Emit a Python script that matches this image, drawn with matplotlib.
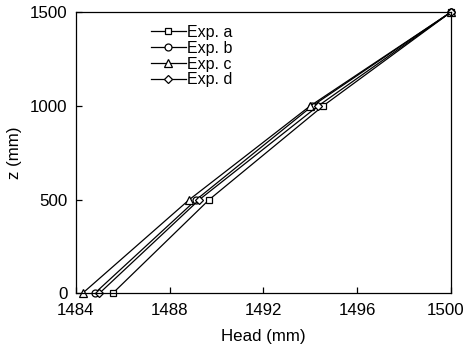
import matplotlib

matplotlib.use("Agg")
import matplotlib.pyplot as plt
from matplotlib.transforms import ScaledTranslation

plt.rcParams["font.family"] = ["Liberation Sans", "DejaVu Sans"]

Z_MM = [0, 500, 1000, 1500]
HEAD_A = [1485.57, 1489.69, 1494.55, 1500.0]
HEAD_B = [1484.80, 1489.14, 1494.09, 1500.0]
HEAD_C = [1484.28, 1488.84, 1494.00, 1500.0]
HEAD_D = [1485.00, 1489.27, 1494.34, 1500.0]

SERIES = [
    ("Exp. a", HEAD_A, "s", 4.5),
    ("Exp. b", HEAD_B, "o", 5.0),
    ("Exp. c", HEAD_C, "^", 5.5),
    ("Exp. d", HEAD_D, "D", 4.5),
]

X_TICKS = [1484, 1488, 1492, 1496, 1500]
Y_TICKS = [0, 500, 1000, 1500]


def main() -> None:
    fig = plt.figure(figsize=(4.67, 3.54), dpi=100)
    ax = fig.add_axes([0.1627, 0.1715, 0.8023, 0.7938])

    for label, head, marker, ms in SERIES:
        ax.plot(
            head,
            Z_MM,
            color="black",
            linewidth=0.9,
            marker=marker,
            markersize=ms,
            markerfacecolor="white",
            markeredgecolor="black",
            markeredgewidth=0.9,
            label=label,
            clip_on=False,
        )

    ax.set_xlim(1484, 1500)
    ax.set_ylim(0, 1500)
    ax.set_xticks(X_TICKS)
    ax.set_yticks(Y_TICKS)
    ax.tick_params(direction="in", length=4, width=0.9, labelsize=12.2)
    ax.tick_params(axis="x", pad=7)
    ax.tick_params(axis="y", pad=6)
    for spine in ax.spines.values():
        spine.set_linewidth(0.9)

    # keep the last x label inside the figure, as in the original
    last = ax.get_xticklabels()[-1]
    last.set_transform(last.get_transform() + ScaledTranslation(-0.05, 0, fig.dpi_scale_trans))

    ax.set_xlabel("Head (mm)", fontsize=12.2, labelpad=8)
    ax.set_ylabel("z (mm)", fontsize=12.2, labelpad=6)

    ax.legend(
        loc="upper left",
        bbox_to_anchor=(0.165, 1.0),
        frameon=False,
        fontsize=11.5,
        handlelength=2.2,
        handletextpad=0.05,
        labelspacing=0.05,
        borderaxespad=0.4,
    )

    fig.savefig("out.png", dpi=100)
    plt.close(fig)


if __name__ == "__main__":
    main()
